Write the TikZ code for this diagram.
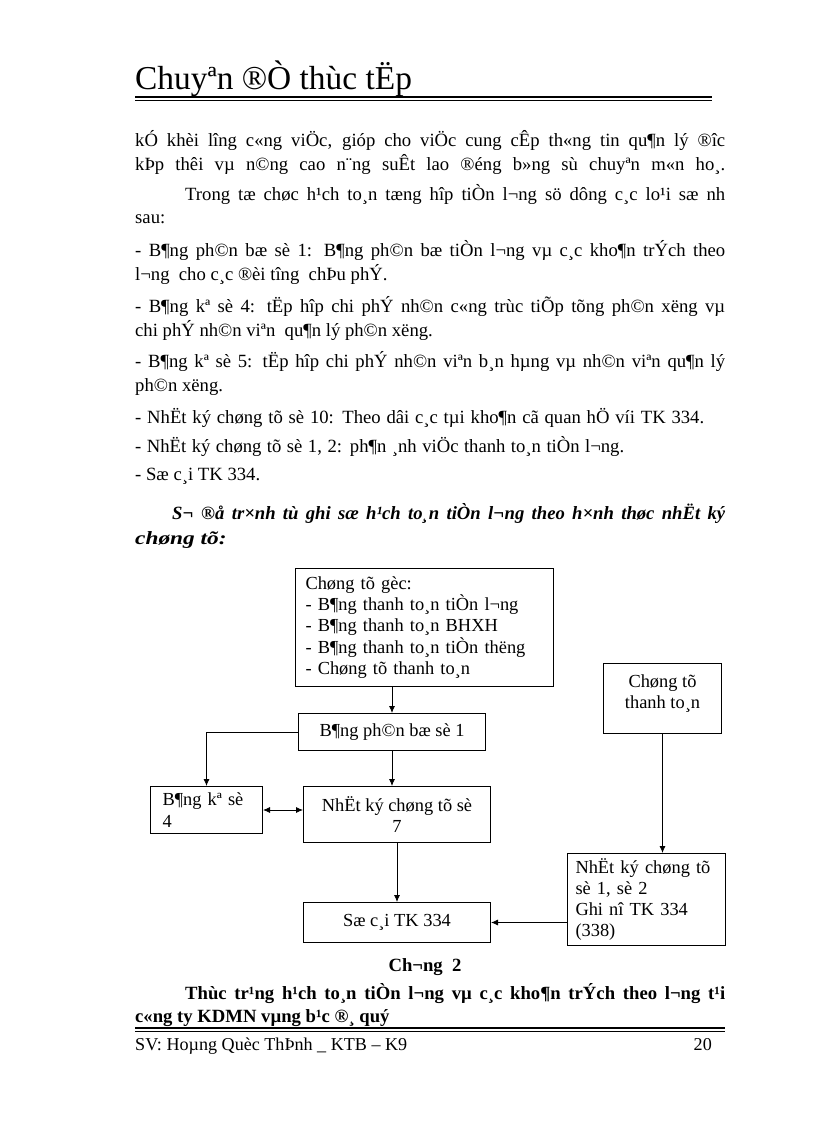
\documentclass[tikz,border=0pt]{standalone}
\usepackage{fontspec}
\setmainfont{Liberation Serif}
\usepackage{graphicx}
\usepackage{tikz}
\usetikzlibrary{arrows.meta,positioning,calc}

\newcommand{\bodyfont}{\fontsize{18.67}{24}\selectfont}
\newcommand{\boxfont}{\fontsize{18.4}{21.2}\selectfont}
\newcommand{\fullline}[1]{\makebox[590pt][s]{#1}}

\begin{document}
\begin{tikzpicture}[x=1pt, y=-1pt,
    txt/.style={anchor=base west, inner sep=0pt, font=\bodyfont},
    box/.style={draw, line width=1pt, inner sep=0pt, font=\boxfont, anchor=north west},
    arr/.style={-{Latex[length=7pt,width=6pt]}, line width=0.8pt}]
    % Page
    \useasboundingbox[fill=white] (0,0) rectangle (816,1123);
    % Header
    \node[anchor=base west, inner sep=0pt, font=\fontsize{33.4}{36}\selectfont] (head) at (135,90) {Chuyªn  ®Ò thùc tËp};
    \draw[line width=2pt] (135,97) -- (712,97);
    \draw[line width=0.8pt] (135,100.5) -- (712,100.5);
    % Text
    \node[txt] (l1) at (135,147) {\fullline{kÓ khèi lîng c«ng viÖc, gióp cho viÖc cung cÊp th«ng tin qu¶n lý ®îc}};
    \node[txt] (l2) at (135,171) {\fullline{kÞp thêi vµ n©ng cao n¨ng suÊt lao ®éng b»ng sù chuyªn m«n ho¸.}};
    \node[txt] (l3) at (185,201) {\makebox[540pt][s]{Trong tæ chøc h¹ch to¸n tæng hîp tiÒn l¬ng sö dông c¸c lo¹i sæ nh}};
    \node[txt] (l4) at (135,224) {sau:};
    \node[txt] (l5) at (135,256) {\fullline{- B¶ng ph©n bæ sè 1: B¶ng ph©n bæ tiÒn l¬ng vµ c¸c kho¶n trÝch theo}};
    \node[txt] (l6) at (135,280) {l¬ng \ cho c¸c ®èi tîng \ chÞu phÝ.};
    \node[txt] (l7) at (135,312) {\fullline{- B¶ng kª sè 4: tËp hîp chi phÝ nh©n c«ng trùc tiÕp tõng ph©n xëng vµ}};
    \node[txt] (l8) at (135,336) {chi phÝ nh©n viªn \ qu¶n lý ph©n xëng.};
    \node[txt] (l9) at (135,367) {\fullline{- B¶ng kª sè 5: tËp hîp chi phÝ nh©n viªn b¸n hµng vµ nh©n viªn qu¶n lý}};
    \node[txt] (l10) at (135,391) {ph©n xëng.};
    \node[txt] (l11) at (135,423) {\makebox[569pt][s]{- NhËt ký chøng tõ sè 10: Theo dâi c¸c tµi kho¶n cã quan hÖ víi TK 334.}};
    \node[txt] (l12) at (135,452) {\makebox[489pt][s]{- NhËt ký chøng tõ sè 1, 2: ph¶n ¸nh viÖc thanh to¸n tiÒn l¬ng.}};
    \node[txt] (l13) at (135,480) {- Sæ c¸i TK 334.};
    \node[txt, font=\bodyfont\bfseries\itshape] (l14) at (172,519) {\makebox[553pt][s]{S¬ ®å tr×nh tù ghi sæ h¹ch to¸n tiÒn l¬ng theo h×nh thøc nhËt ký}};
    \node[txt, font=\bodyfont\bfseries\itshape] (l15) at (135,544) {\scalebox{1.25}[1]{chøng tõ:}};
    % Boxes
    \node[box, minimum width=258, minimum height=118, text width=238, align=left, inner xsep=10pt] (goc) at (295,568) {Chøng tõ gèc:\\- B¶ng thanh to¸n tiÒn l¬ng\\- B¶ng thanh to¸n BHXH\\- B¶ng thanh to¸n tiÒn thëng\\- Chøng tõ thanh to¸n};
    \node[box, minimum width=187, minimum height=37] (bang1) at (298,713) {B¶ng ph©n bæ sè 1};
    \node[box, minimum width=112, minimum height=47, text width=88, align=left, inner xsep=12pt] (ke4) at (150,786) {B¶ng kª sè\\4};
    \node[box, minimum width=187, minimum height=56, align=center] (nkct7) at (303,786) {NhËt ký chøng tõ sè\\7};
    \node[box, minimum width=118, minimum height=70, align=center, text depth=14pt] (cttt) at (603,663) {Chøng tõ\\thanh to¸n};
    \node[box, minimum width=158, minimum height=92, text width=142, align=left, inner xsep=8pt] (nkct12) at (567,853) {NhËt ký chøng tõ\\sè 1, sè 2\\Ghi nî TK 334\\(338)};
    \node[box, minimum width=187, minimum height=40] (socai) at (303,902) {Sæ c¸i TK 334};
    % Connectors
    \draw[arr] (bang1.north |- goc.south) -- (bang1.north);
    \draw[arr] (bang1.west) -| (ke4.north);
    \draw[arr] (bang1.south) -- (bang1.south |- nkct7.north);
    \draw[{Latex[length=7pt,width=6pt]}-{Latex[length=7pt,width=6pt]}, line width=0.8pt] (ke4.east) -- (ke4.east -| nkct7.west);
    \draw[arr] (nkct7.south) -- (nkct7.south |- socai.north);
    \draw[arr] (cttt.south) -- (cttt.south |- nkct12.north);
    \draw[arr] (nkct12.west |- socai.east) -- (socai.east);
    % Chapter
    \node[anchor=base, inner sep=0pt, font=\bodyfont\bfseries] (chuong) at (425,971) {Ch¬ng \ 2};
    \node[txt, font=\bodyfont\bfseries] (tieude) at (185,999) {\makebox[540pt][s]{Thùc tr¹ng h¹ch to¸n tiÒn l¬ng vµ c¸c kho¶n trÝch theo l¬ng t¹i}};
    \node[txt, font=\bodyfont\bfseries] (tieude2) at (135,1022) {c«ng ty KDMN vµng b¹c ®¸ quý};
    % Footer
    \draw[line width=2pt] (135,1028) -- (725,1028);
    \draw[line width=0.8pt] (135,1031.5) -- (725,1031.5);
    \node[anchor=base west, inner sep=0pt, font=\fontsize{18.1}{21}\selectfont] (sv) at (135,1050) {SV: Hoµng Quèc ThÞnh \_ KTB – K9};
    \node[anchor=base east, inner sep=0pt, font=\fontsize{18.1}{21}\selectfont] (trang) at (712,1050) {20};
\end{tikzpicture}
\end{document}
